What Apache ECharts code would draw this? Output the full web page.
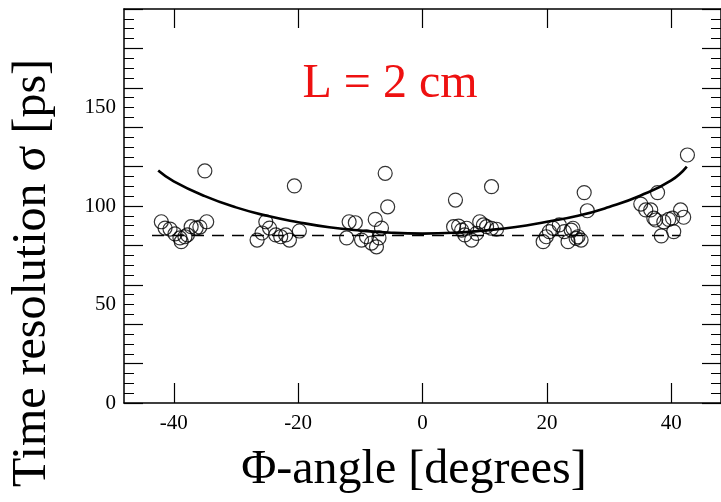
<!DOCTYPE html>
<html>
<head>
<meta charset="utf-8">
<script src="https://cdn.jsdelivr.net/npm/echarts@6/dist/echarts.min.js"></script>
<style>html,body{margin:0;padding:0;background:#fff;}#c{width:721px;height:502px;}</style>
</head>
<body>
<div id="c"></div>
<script>
// Measured points: phi angle [degrees] and time resolution sigma [ps]
var pointPhi = [-42.0,-41.4,-40.6,-39.8,-39.0,-38.8,-38.2,-37.8,-37.2,-36.4,-35.8,-34.7,-35.0,
  -26.6,-25.8,-25.2,-24.6,-23.6,-22.8,-22.0,-21.4,-20.6,-19.8,
  -12.2,-11.8,-10.8,-9.8,-9.0,-8.2,-7.4,-7.6,-6.6,-7.0,-6.0,-5.6,
  5.3,11.1,5.0,5.8,6.3,6.8,7.1,7.9,8.7,9.2,9.8,10.3,11.1,11.9,
  19.4,19.9,20.4,21.0,22.0,22.8,23.4,23.9,24.2,24.7,25.0,25.5,26.0,26.5,
  35.1,35.9,36.7,37.2,37.5,37.8,38.4,38.8,39.6,40.2,40.4,41.5,42.0,42.6];
var pointSigma = [92.0,88.8,88.3,85.8,83.8,81.9,84.4,85.3,89.5,88.8,89.3,92.0,117.8,
  82.7,86.3,92.0,88.8,85.3,84.4,85.3,82.7,110.2,87.3,
  83.8,92.0,91.5,82.7,84.4,81.2,79.3,93.2,88.8,83.8,116.6,99.6,
  103.0,109.8,89.5,89.8,87.8,85.3,88.7,82.7,86.1,92.0,90.4,89.5,88.7,88.2,
  81.9,84.4,87.0,88.7,90.4,87.0,81.9,87.8,88.7,83.6,84.4,82.7,106.8,97.6,
  101.0,98.0,98.0,93.8,92.9,106.8,84.8,92.0,93.2,93.8,87.0,98.0,94.3,125.9];
// Solid fitted curve
var curvePhi   = [-42.5,-40,-35,-30,-25,-20,-15,-10,-5,0,5,10,15,20,25,30,35,40,42.5];
var curveSigma = [118,112.5,105,99.3,95,91.8,89.2,87.5,86.4,86,86.4,87.6,89.3,92,95,99.5,105.2,113,120];
// Dashed constant line
var dashPhi   = [-43.5, 41.5];
var dashSigma = [85, 85];
// Axis ticks
var xTicks = [-40,-20,0,20,40];
var yLabelTicks = [0,50,100,150];

function pairs(a,b){var r=[];for(var i=0;i<a.length;i++)r.push([a[i],b[i]]);return r;}

var chart = echarts.init(document.getElementById('c'), null, {renderer:'canvas'});
var serif = '"Liberation Serif","DejaVu Serif",serif';
var axisCol = '#000';
var option = {
  backgroundColor:'#fff',
  animation:false,
  grid:{left:124, top:9, width:600, height:394},
  xAxis:[
    {type:'value', min:-48, max:48, position:'bottom', splitLine:{show:false},
      axisLine:{show:true, onZero:false, lineStyle:{color:axisCol,width:1.5}},
      axisTick:{show:true, inside:true, length:20, customValues:xTicks, lineStyle:{color:axisCol,width:1.2}},
      axisLabel:{show:true, margin:10, color:'#000', fontFamily:serif, fontSize:21, customValues:xTicks}},
    {type:'value', min:-48, max:48, position:'top', splitLine:{show:false},
      axisLine:{show:true, onZero:false, lineStyle:{color:axisCol,width:1.5}},
      axisTick:{show:true, inside:true, length:19, customValues:xTicks, lineStyle:{color:axisCol,width:1.2}},
      axisLabel:{show:false}}
  ],
  yAxis:[
    {type:'value', min:0, max:200, interval:50, position:'left', offset:0,
      axisLine:{show:false, onZero:false}, axisTick:{show:false}, splitLine:{show:false},
      axisLabel:{show:true, margin:8, color:'#000', fontFamily:serif, fontSize:21, customValues:yLabelTicks}},
    {type:'value', min:0, max:200, interval:20, position:'left', offset:0,
      axisLine:{show:true, onZero:false, lineStyle:{color:axisCol,width:1.5}},
      axisTick:{show:true, inside:true, length:19, lineStyle:{color:axisCol,width:1.2}},
      minorTick:{show:true, splitNumber:4, length:10, lineStyle:{color:axisCol,width:1}},
      splitLine:{show:false}, axisLabel:{show:false}},
    {type:'value', min:0, max:200, interval:20, position:'right', offset:0,
      axisLine:{show:true, onZero:false, lineStyle:{color:axisCol,width:1.5}},
      axisTick:{show:true, inside:true, length:19, lineStyle:{color:axisCol,width:1.2}},
      minorTick:{show:true, splitNumber:4, length:10, lineStyle:{color:axisCol,width:1}},
      splitLine:{show:false}, axisLabel:{show:false}}
  ],
  series:[
    {type:'line', name:'fit', xAxisIndex:0, yAxisIndex:1, data:pairs(curvePhi,curveSigma),
      smooth:true, showSymbol:false, symbol:'none', lineStyle:{color:'#000', width:2.6}, z:2},
    {type:'line', name:'const', xAxisIndex:0, yAxisIndex:1, data:pairs(dashPhi,dashSigma),
      showSymbol:false, symbol:'none', lineStyle:{color:'#000', width:1.5, type:[12,8]}, z:2},
    {type:'scatter', name:'data', xAxisIndex:0, yAxisIndex:1, data:pairs(pointPhi,pointSigma),
      symbol:'circle', symbolSize:14,
      itemStyle:{color:'rgba(255,255,255,0)', borderColor:'#000', borderWidth:1.2}, z:3}
  ],
  graphic:[
    {type:'text', x:32, y:273, rotation:Math.PI/2, style:{text:'Time resolution σ [ps]', fill:'#000',
      font:'48px "Liberation Serif", serif', textAlign:'center', textVerticalAlign:'middle'}},
    {type:'text', x:414, y:470, style:{text:'Φ-angle [degrees]', fill:'#000',
      font:'48px "Liberation Serif", serif', textAlign:'center', textVerticalAlign:'middle'}},
    {type:'text', x:390, y:84, style:{text:'L = 2 cm', fill:'#ee1111',
      font:'48px "Liberation Serif", serif', textAlign:'center', textVerticalAlign:'middle'}}
  ]
};
chart.setOption(option);
</script>
</body>
</html>
